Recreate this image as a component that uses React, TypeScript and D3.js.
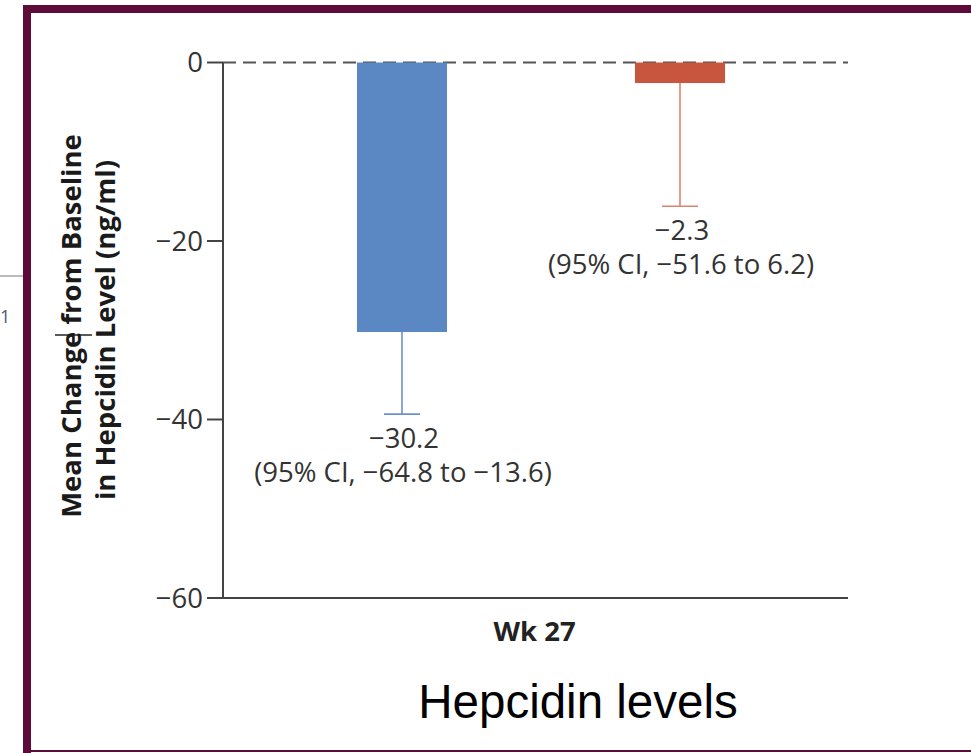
import React from "react";
import * as d3 from "d3";

const groups = ["Drug", "Placebo"];
const means = [-30.2, -2.3];
const errLow = [-39.4, -16.1];
const valueLabels = ["\u221230.2", "\u22122.3"];
const ciLabels = ["(95% CI, \u221264.8 to \u221213.6)", "(95% CI, \u221251.6 to 6.2)"];
const yTicks = [0, -20, -40, -60];
const tickLabels = ["0", "\u221220", "\u221240", "\u221260"];
const barColors = ["#5b87c2", "#c8553d"];
const errColors = ["#6b93c8", "#dc8470"];
const xLabel = "Wk 27";
const yTitle = ["Mean Change from Baseline", "in Hepcidin Level (ng/ml)"];
const caption = "Hepcidin levels";

const W = 971;
const H = 753;
const FONT = "'Open Sans', Lato, sans-serif";

export default function App() {
  const axisX0 = 223;
  const axisX1 = 848;
  const y = d3.scaleLinear().domain([0, -60]).range([62.5, 598]);
  const x = d3.scaleBand().domain(groups).range([263, 819]).paddingInner(0.676).paddingOuter(0.338);
  const bw = x.bandwidth();
  const maroon = "#5d0c3a";

  return (
    <svg width={W} height={H} style={{ position: "absolute", left: 0, top: 0, background: "#fff" }}>
      {/* frame */}
      <rect x={23} y={5} width={W - 23} height={8} fill={maroon} />
      <rect x={23} y={5} width={8} height={H - 5} fill={maroon} />
      <rect x={23} y={750} width={W - 23} height={2} fill={maroon} />
      {/* artifacts outside frame */}
      <line x1={0} x2={23} y1={276} y2={276} stroke="#777" strokeWidth={1} />
      <text x={0} y={323} fontFamily={FONT} fontSize={18} fill="#4a5a78">1</text>
      <line x1={55} x2={92} y1={335} y2={335} stroke="#222" strokeWidth={1.5} />

      {/* dashed zero line */}
      <line x1={axisX0} x2={axisX1} y1={y(0)} y2={y(0)} stroke="#555" strokeWidth={2} strokeDasharray="13,7" />
      {/* bottom axis */}
      <line x1={axisX0} x2={axisX1} y1={y(-60)} y2={y(-60)} stroke="#444" strokeWidth={2} />
      {/* left axis */}
      <line x1={axisX0} x2={axisX0} y1={y(0)} y2={y(-60)} stroke="#444" strokeWidth={2} />
      {yTicks.map((t, i) => (
        <g key={t}>
          <line x1={207} x2={axisX0} y1={y(t)} y2={y(t)} stroke="#444" strokeWidth={2} />
          <text x={203} y={y(t)} dy="0.36em" textAnchor="end" fontFamily={FONT} fontSize={27.5} fill="#333">
            {tickLabels[i]}
          </text>
        </g>
      ))}

      {/* bars */}
      {groups.map((g, i) => {
        const cx = (x(g) as number) + bw / 2;
        const yEnd = y(errLow[i]);
        return (
          <g key={g}>
            <line x1={cx} x2={cx} y1={y(means[i])} y2={yEnd} stroke={errColors[i]} strokeWidth={1.6} />
            <line x1={cx - 18} x2={cx + 18} y1={yEnd} y2={yEnd} stroke={errColors[i]} strokeWidth={1.6} />
            <rect x={x(g)} y={y(0)} width={bw} height={y(means[i]) - y(0)} fill={barColors[i]} />
            <text x={cx + 2} y={yEnd + 34} textAnchor="middle" fontFamily={FONT} fontSize={27.5} fill="#333">
              {valueLabels[i]}
            </text>
            <text x={cx + 1} y={yEnd + 68} textAnchor="middle" fontFamily={FONT} fontSize={27.5} fill="#333">
              {ciLabels[i]}
            </text>
          </g>
        );
      })}

      {/* x label */}
      <text x={(axisX0 + axisX1) / 2 - 1} y={641} textAnchor="middle" fontFamily={FONT} fontWeight="bold" fontSize={27.5} fill="#222">
        {xLabel}
      </text>

      {/* y title */}
      <g transform="translate(81,326) rotate(-90)">
        <text x={0} y={0} textAnchor="middle" fontFamily={FONT} fontWeight="bold" fontSize={27.5} fill="#1a1a1a">
          {yTitle[0]}
        </text>
        <text x={-4} y={34} textAnchor="middle" fontFamily={FONT} fontWeight="bold" fontSize={27.5} fill="#1a1a1a">
          {yTitle[1]}
        </text>
      </g>

      {/* caption */}
      <text x={578} y={718} textAnchor="middle" fontFamily="'Liberation Sans', Arial, sans-serif" fontSize={47.5} fill="#000">
        {caption}
      </text>
    </svg>
  );
}
